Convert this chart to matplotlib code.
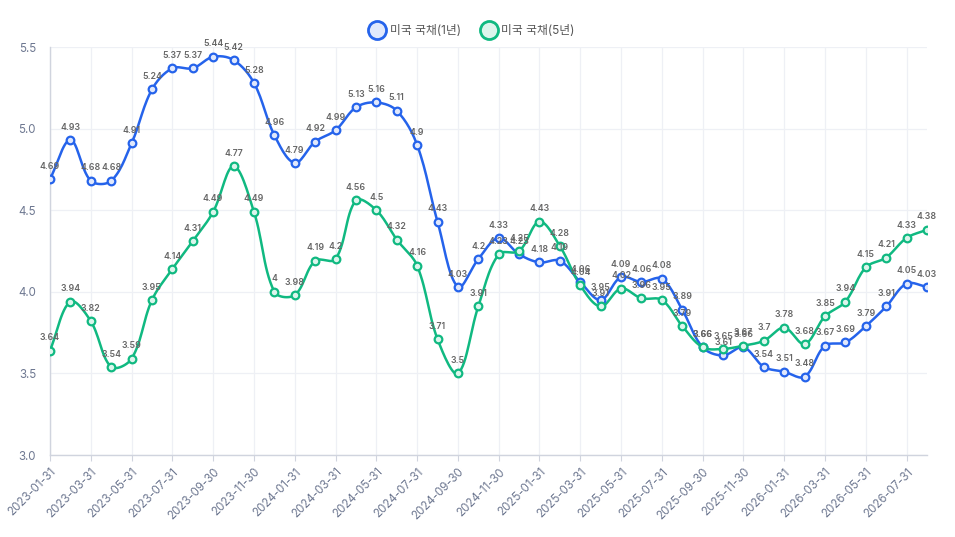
import numpy as np
import matplotlib.pyplot as plt
from matplotlib.lines import Line2D

# monthly month-end dates 2023-01 .. 2026-08
dates = ['2023-01-31', '2023-02-28', '2023-03-31', '2023-04-30', '2023-05-31', '2023-06-30',
         '2023-07-31', '2023-08-31', '2023-09-30', '2023-10-31', '2023-11-30', '2023-12-31',
         '2024-01-31', '2024-02-29', '2024-03-31', '2024-04-30', '2024-05-31', '2024-06-30',
         '2024-07-31', '2024-08-31', '2024-09-30', '2024-10-31', '2024-11-30', '2024-12-31',
         '2025-01-31', '2025-02-28', '2025-03-31', '2025-04-30', '2025-05-31', '2025-06-30',
         '2025-07-31', '2025-08-31', '2025-09-30', '2025-10-31', '2025-11-30', '2025-12-31',
         '2026-01-31', '2026-02-28', '2026-03-31', '2026-04-30', '2026-05-31', '2026-06-30',
         '2026-07-31', '2026-08-31']

us_1y = [4.69, 4.93, 4.68, 4.68, 4.91, 5.24, 5.37, 5.37, 5.44, 5.42, 5.28, 4.96,
         4.79, 4.92, 4.99, 5.13, 5.16, 5.11, 4.9, 4.43, 4.03, 4.2, 4.33, 4.23,
         4.18, 4.19, 4.06, 3.95, 4.09, 4.06, 4.08, 3.89, 3.66, 3.61, 3.66, 3.54,
         3.51, 3.48, 3.67, 3.69, 3.79, 3.91, 4.05, 4.03]

us_5y = [3.64, 3.94, 3.82, 3.54, 3.59, 3.95, 4.14, 4.31, 4.49, 4.77, 4.49, 4.0,
         3.98, 4.19, 4.2, 4.56, 4.5, 4.32, 4.16, 3.71, 3.5, 3.91, 4.23, 4.25,
         4.43, 4.28, 4.04, 3.91, 4.02, 3.96, 3.95, 3.79, 3.66, 3.65, 3.67, 3.7,
         3.78, 3.68, 3.85, 3.94, 4.15, 4.21, 4.33, 4.38]

series = [('미국 국채(1년)', us_1y, '#2563eb', '#e0e8fc'),
          ('미국 국채(5년)', us_5y, '#10b981', '#dcf5ec')]

plt.rcParams['font.family'] = ['Inter', 'Noto Sans CJK KR', 'DejaVu Sans']

W, H = 955, 537
fig = plt.figure(figsize=(W / 100, H / 100), dpi=100)
left, right, top, bottom = 50, 927, 47, 455
ax = fig.add_axes([left / W, 1 - bottom / H, (right - left) / W, (bottom - top) / H])

ymin, ymax = 3.0, 5.5
n = len(dates)
xs = np.arange(n)
px_x = (right - left) / (n - 1)
px_y = (bottom - top) / (ymax - ymin)


def smooth_curve(x, y, smooth=0.35, steps=16):
    # bezier smoothing similar to echarts, done in pixel space
    X = x * px_x
    Y = y * px_y
    out_x, out_y = [], []
    cps = []
    for i in range(len(X)):
        prev_i = max(i - 1, 0)
        next_i = min(i + 1, len(X) - 1)
        vx, vy = X[next_i] - X[prev_i], Y[next_i] - Y[prev_i]
        d0 = np.hypot(X[i] - X[prev_i], Y[i] - Y[prev_i])
        d1 = np.hypot(X[next_i] - X[i], Y[next_i] - Y[i])
        tot = d0 + d1
        r = d1 / tot if tot else 0.5
        c0 = (X[i] - vx * smooth * (1 - r), Y[i] - vy * smooth * (1 - r))
        c1 = (X[i] + vx * smooth * r, Y[i] + vy * smooth * r)
        cps.append((c0, c1))
    t = np.linspace(0, 1, steps)
    for i in range(len(X) - 1):
        p0 = np.array([X[i], Y[i]])
        p1 = np.array(cps[i][1])
        p2 = np.array(cps[i + 1][0])
        p3 = np.array([X[i + 1], Y[i + 1]])
        pts = ((1 - t) ** 3)[:, None] * p0 + (3 * (1 - t) ** 2 * t)[:, None] * p1 \
            + (3 * (1 - t) * t ** 2)[:, None] * p2 + (t ** 3)[:, None] * p3
        out_x.extend(pts[:, 0])
        out_y.extend(pts[:, 1])
    return np.array(out_x) / px_x, np.array(out_y) / px_y


for name, vals, color, fill in series:
    v = np.array(vals)
    cx, cy = smooth_curve(xs.astype(float), v)
    ax.plot(cx, cy, color=color, lw=1.8, zorder=3, solid_capstyle='round')
    ax.plot(xs, v, 'o', ms=5.5, mfc=fill, mec=color, mew=1.6, zorder=4)
    for x, val in zip(xs, vals):
        ax.annotate(f'{val:g}', (x, val), xytext=(0, 6), textcoords='offset points',
                    ha='center', va='bottom', fontsize=6.3, fontweight='semibold',
                    color='#666666', zorder=5)

ax.set_xlim(0, n - 1)
ax.set_ylim(ymin, ymax)
ax.set_yticks(np.arange(3.0, 5.51, 0.5))
ax.set_yticklabels([f'{t:.1f}' for t in np.arange(3.0, 5.51, 0.5)])
ax.set_xticks(xs[::2])
ax.set_xticklabels(dates[::2], rotation=45, ha='right', rotation_mode='anchor')
ax.tick_params(axis='x', colors='#6e7891', labelsize=8.3, length=4, color='#d0d4de', pad=4)
ax.tick_params(axis='y', colors='#6e7891', labelsize=8.3, length=0, pad=10)

ax.grid(True, color='#eef0f5', lw=0.9, zorder=0)
for s in ['top', 'right']:
    ax.spines[s].set_visible(False)
for s in ['left', 'bottom']:
    ax.spines[s].set_color('#d0d4de')
    ax.spines[s].set_linewidth(1)

handles = [Line2D([], [], ls='none', marker='o', ms=13, mfc=fill, mec=color, mew=2)
           for _, _, color, fill in series]
fig.legend(handles, [s[0] for s in series], loc='center', bbox_to_anchor=(470 / W, 1 - 31 / H),
           ncol=2, frameon=False, fontsize=8.5, handletextpad=0.05, columnspacing=1.4,
           labelcolor='#555555')

fig.savefig('out.png', dpi=100)
